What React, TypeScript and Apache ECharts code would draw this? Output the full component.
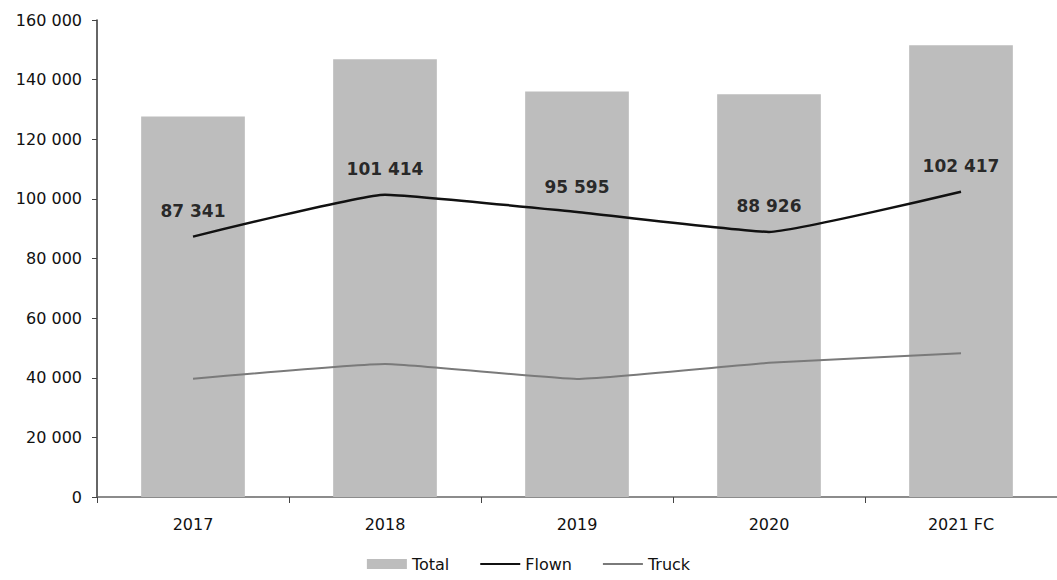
import React, { useEffect, useRef } from "react";
import * as echarts from "echarts";

const categories = ["2017", "2018", "2019", "2020", "2021 FC"];
const totalValues = [127600, 146800, 136000, 135100, 151500];
const flownValues = [87341, 101414, 95595, 88926, 102417];
const truckValues = [39700, 44600, 39600, 45000, 48200];
const yTicks = { min: 0, max: 160000, interval: 20000 };

const fmt = (v: number) => String(Math.round(v)).replace(/\B(?=(\d{3})+(?!\d))/g, " ");

export default function App() {
  const ref = useRef<HTMLDivElement>(null);
  useEffect(() => {
    if (!ref.current) return;
    const chart = echarts.init(ref.current, null, { renderer: "svg" });
    const font = "DejaVu Sans";
    chart.setOption({
      animation: false,
      backgroundColor: "#ffffff",
      grid: { left: 97, right: -15, top: 20, bottom: 83, containLabel: false },
      legend: {
        bottom: 3,
        left: "center",
        itemWidth: 40,
        itemHeight: 10,
        itemGap: 30,
        textStyle: { fontFamily: font, fontSize: 16, color: "#111" },
        data: [
          { name: "Total", icon: "rect" },
          { name: "Flown", itemStyle: { opacity: 0 } },
          { name: "Truck", itemStyle: { opacity: 0 } },
        ],
      },
      xAxis: {
        type: "category",
        data: categories,
        boundaryGap: true,
        axisLine: { lineStyle: { color: "#666", width: 1.5 } },
        axisTick: { show: true, alignWithLabel: false, length: 6, lineStyle: { color: "#444" } },
        axisLabel: { fontFamily: font, fontSize: 16, color: "#111", margin: 19 },
      },
      yAxis: {
        type: "value",
        min: yTicks.min,
        max: yTicks.max,
        interval: yTicks.interval,
        axisLine: { show: true, lineStyle: { color: "#333", width: 1.5 } },
        axisTick: { show: true, length: 5, lineStyle: { color: "#444" } },
        splitLine: { show: false },
        axisLabel: { fontFamily: font, fontSize: 16, color: "#111", margin: 15, formatter: (v: number) => fmt(v) },
      },
      series: [
        {
          name: "Total",
          type: "bar",
          data: totalValues,
          barWidth: "54%",
          itemStyle: { color: "#bdbdbd" },
          z: 1,
        },
        {
          name: "Flown",
          type: "line",
          data: flownValues,
          smooth: 0.12,
          symbol: "none",
          lineStyle: { color: "#111", width: 2.5 },
          itemStyle: { color: "#111" },
          z: 3,
        },
        {
          name: "Truck",
          type: "line",
          data: truckValues,
          smooth: 0.12,
          symbol: "none",
          lineStyle: { color: "#7a7a7a", width: 2 },
          itemStyle: { color: "#7a7a7a" },
          z: 2,
        },
        {
          name: "FlownLabels",
          type: "scatter",
          data: flownValues,
          symbolSize: 0,
          silent: true,
          itemStyle: { color: "#000" },
          label: {
            show: true,
            position: "top",
            distance: 17,
            fontFamily: font,
            fontWeight: "bold",
            fontSize: 17,
            color: "#000",
            formatter: (p: any) => fmt(p.value),
          },
          z: 4,
        },
      ],
    });
    return () => chart.dispose();
  }, []);
  return <div ref={ref} style={{ position: "fixed", left: 0, top: 0, width: 1057, height: 580 }} />;
}
